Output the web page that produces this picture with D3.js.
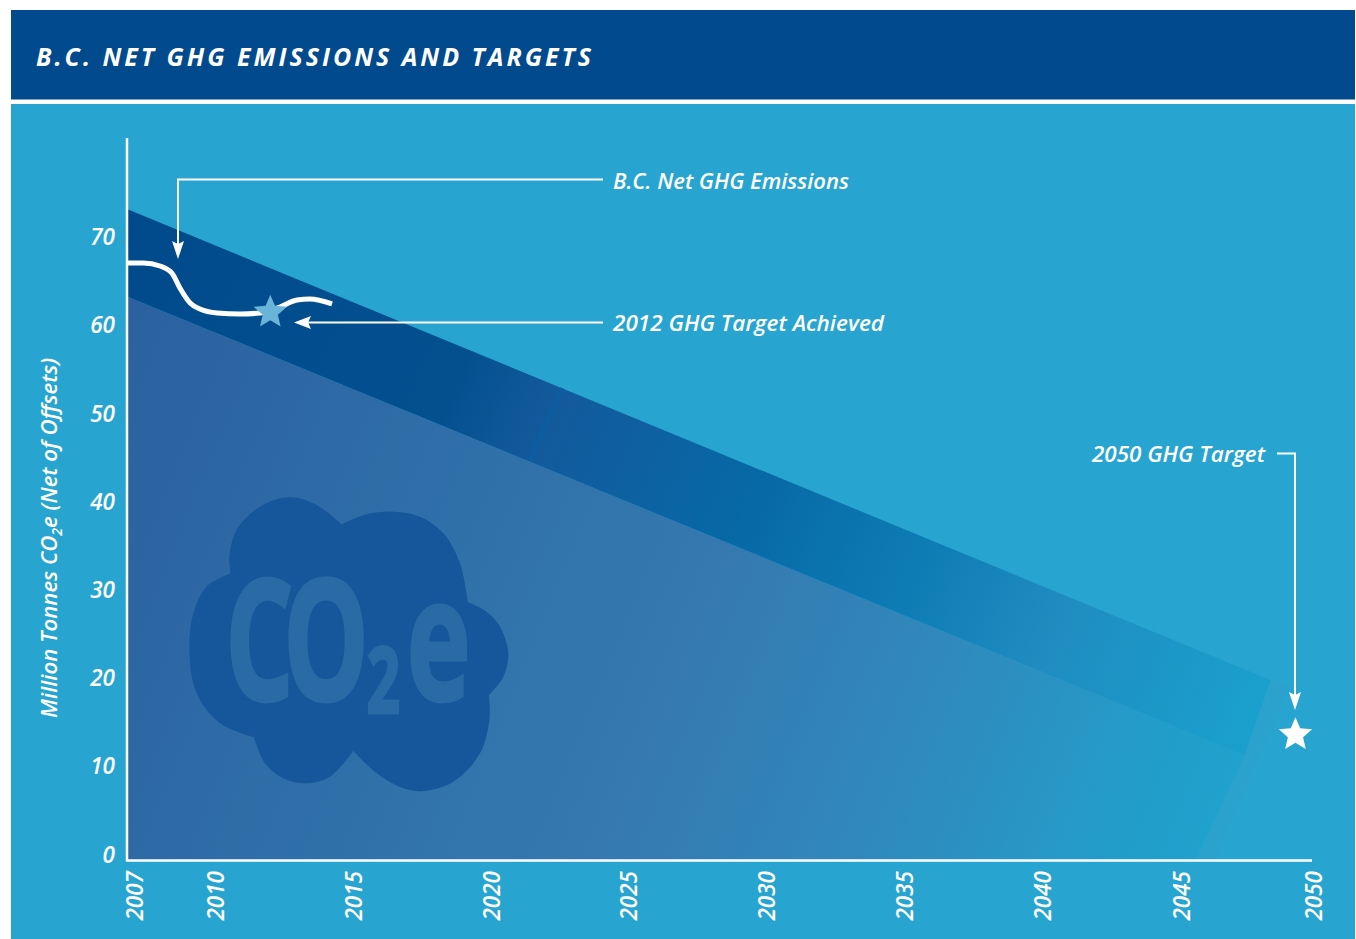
<!DOCTYPE html>
<html><head><meta charset="utf-8">
<script src="https://cdnjs.cloudflare.com/ajax/libs/d3/7.8.5/d3.min.js"></script>
<style>html,body{margin:0;padding:0;background:#fff;overflow:hidden}svg{display:block}
text{font-family:"Open Sans",Lato,sans-serif;font-style:italic;font-weight:600;fill:#fff}</style>
</head><body><svg id="c" width="1356" height="939"></svg>
<script>
const titleText = "B.C. NET GHG EMISSIONS AND TARGETS";
const yTicks = [0,10,20,30,40,50,60,70];
const xTicks = [2007,2010,2015,2020,2025,2030,2035,2040,2045,2050];
const emissionYears  = [2007,2007.6,2008.2,2008.63,2008.92,2009.29,2009.65,2010.27,2011.1,2011.83,2012.55,2013.17,2013.64,2014.44];
const emissionValues = [67.7,67.7,67.35,66.55,64.85,63.15,62.47,62.02,61.9,62.02,62.7,63.5,63.6,63.04];
const upperBandYears  = [2007,2048.5,2047.55,2007];
const upperBandValues = [73.8,20.4,11.9,63.9];
const lowerBandYears  = [2007,2047.55,2045.8,2007];
const lowerBandValues = [63.9,11.9,0,0];
const targets2012 = {year:2012.2,value:62.1};
const targets2050 = {year:2049.4,value:14.2};
const upperStops = [[0,"#004a8c"],[.3,"#04508f"],[.38,"#135a9c"],[.55,"#0768a6"],[.7,"#0d7cb4"],[.82,"#1f8cc0"],[1,"#1aa0cc"]];
const lowerStops = [[0,"#2a5f9e"],[.3,"#2f6ea8"],[.55,"#3579b0"],[.75,"#3089bc"],[.9,"#259ac8"],[1,"#1fa2cd"]];

const svg = d3.select("#c");
const x = d3.scaleLinear().domain([2007,2050]).range([127,1312]);
const y = d3.scaleLinear().domain([0,70]).range([860,242.6]);
const defs = svg.append("defs");
function grad(id,stops){
  const g = defs.append("linearGradient").attr("id",id).attr("gradientUnits","userSpaceOnUse")
    .attr("x1",127).attr("y1",209).attr("x2",1270).attr("y2",680);
  stops.forEach(s=>g.append("stop").attr("offset",s[0]).attr("stop-color",s[1]));
}
grad("gu",upperStops); grad("gl",lowerStops);

svg.append("rect").attr("x",11).attr("y",104).attr("width",1344).attr("height",835).attr("fill","#27a5d0");
svg.append("rect").attr("x",11).attr("y",10).attr("width",1344).attr("height",89.5).attr("fill","#004a8d");
svg.append("text").attr("x",36).attr("y",66).attr("font-size",25).style("font-weight",700)
  .attr("textLength",555).attr("lengthAdjust","spacing").text(titleText);

const poly = (ys,vs)=>d3.line().x(i=>x(ys[i])).y(i=>y(vs[i])).curve(d3.curveLinearClosed)(d3.range(ys.length));
svg.append("path").attr("d","M1270,680L1290,688L1215,860L1197,860L1243,755Z").attr("fill","#2ea0cb").attr("opacity",.55);
svg.append("path").attr("d",poly(lowerBandYears,lowerBandValues)).attr("fill","url(#gl)");
svg.append("path").attr("d",poly(upperBandYears,upperBandValues)).attr("fill","url(#gu)");
svg.append("line").attr("x1",562).attr("y1",388).attr("x2",530).attr("y2",460).attr("stroke","#0a5ea1").attr("stroke-width",4);

// cloud
const lobes = [
 [[515,133],[440,75],[360,52],[270,80],[200,150],[178,230],[182,280]],
 [[182,280],[110,320],[70,400],[58,510],[80,640],[150,730],[252,772]],
 [[252,772],[285,850],[340,895],[405,910],[480,890],[550,812]],
 [[550,812],[620,880],[700,925],[760,933],[850,905],[930,820],[958,720],[957,645]],
 [[957,645],[1000,590],[1015,520],[990,440],[950,395],[893,365]],
 [[893,365],[870,250],[820,160],[750,110],[670,95],[590,103],[515,133]]
];
const lobeLine = d3.line().x(p=>170+p[0]/3).y(p=>480+p[1]/3).curve(d3.curveCatmullRom);
const cloudD = lobes.map((l,i)=>{const s=lobeLine(l);return i?s.replace(/^M/,"L"):s;}).join("")+"Z";
svg.append("path").attr("d",cloudD).attr("fill","#16569a");
const cloudT = svg.append("text").attr("transform","translate(225,700) scale(.64,1)")
  .style("font-family","'Open Sans',sans-serif").style("font-style","normal").style("font-weight",700)
  .style("fill","#2a6aa5").style("stroke","#2a6aa5").style("stroke-width",3);
[["C",169,0,0],["O",169,-17,0],["2",92,-4,13],["e",170,10,-13]].forEach(d=>{
  cloudT.append("tspan").attr("font-size",d[1]).attr("dx",d[2]).attr("dy",d[3]).text(d[0]);
});

// axes
const yAxis = d3.axisLeft(y).tickValues(yTicks).tickSize(0).tickPadding(0);
const yg = svg.append("g").attr("transform","translate(115,0)").call(yAxis);
yg.select(".domain").remove();
yg.selectAll("text").attr("dy",null).attr("y",2).attr("x",0).attr("font-size",22.5).attr("fill","#fff");
const xAxis = d3.axisBottom(x).tickValues(xTicks).tickFormat(d3.format("d")).tickSize(0);
const xg = svg.append("g").attr("transform","translate(0,860)").call(xAxis);
xg.select(".domain").remove();
const nudge = d=>d===2007?8:d===2050?2:d===2045?7.7:6;
xg.selectAll("text").attr("font-size",22.5).attr("fill","#fff")
  .attr("text-anchor","end").attr("dy",null).attr("y",0)
  .attr("transform",d=>`translate(${nudge(d)+7.8},11) rotate(-90)`);
svg.append("path").attr("d","M127,138V860.5H1312").attr("fill","none").attr("stroke","#fff").attr("stroke-width",2.5);

const yt = svg.append("text").attr("transform","translate(57,718) rotate(-90)").attr("font-size",22.2);
yt.append("tspan").text("Million Tonnes CO");
yt.append("tspan").attr("dy",5).attr("font-size",14).text("2");
yt.append("tspan").attr("dy",-5).text("e (Net of Offsets)");

// emissions
svg.append("path").attr("d",d3.line().x(i=>x(emissionYears[i])).y(i=>y(emissionValues[i])).curve(d3.curveMonotoneX)(d3.range(emissionYears.length)))
  .attr("fill","none").attr("stroke","#fff").attr("stroke-width",5);
const star = d3.lineRadial().angle((d,i)=>i*Math.PI/5).radius((d,i)=>i%2?8:17.5).curve(d3.curveLinearClosed)(d3.range(10));
svg.append("path").attr("d",star).attr("fill","#6ab4d9").attr("transform",`translate(${x(targets2012.year)},${y(targets2012.value)})`);
svg.append("path").attr("d",star).attr("fill","#fff").attr("transform",`translate(${x(targets2050.year)},${y(targets2050.value)})`);

// annotations
const leader = d=>svg.append("path").attr("d",d).attr("fill","none").attr("stroke","#fff").attr("stroke-width",2);
const head = d=>svg.append("path").attr("d",d).attr("fill","#fff");
leader("M603,179.5H178V245");
head("M178,259L172,241L178,244L184,241Z");
leader("M603,322.5H308");
head("M294,322.5L311,316L308,322.5L311,329Z");
leader("M1277,453.5H1295V696");
head("M1295,710L1289,692L1295,695L1301,692Z");
const lab=(t,xp,yp,w)=>svg.append("text").attr("x",xp).attr("y",yp).attr("font-size",22).attr("textLength",w).attr("lengthAdjust","spacingAndGlyphs").text(t);
lab("B.C. Net GHG Emissions",613,189,236);
lab("2012 GHG Target Achieved",613,331,271);
lab("2050 GHG Target",1092,462,173);
</script></body></html>
